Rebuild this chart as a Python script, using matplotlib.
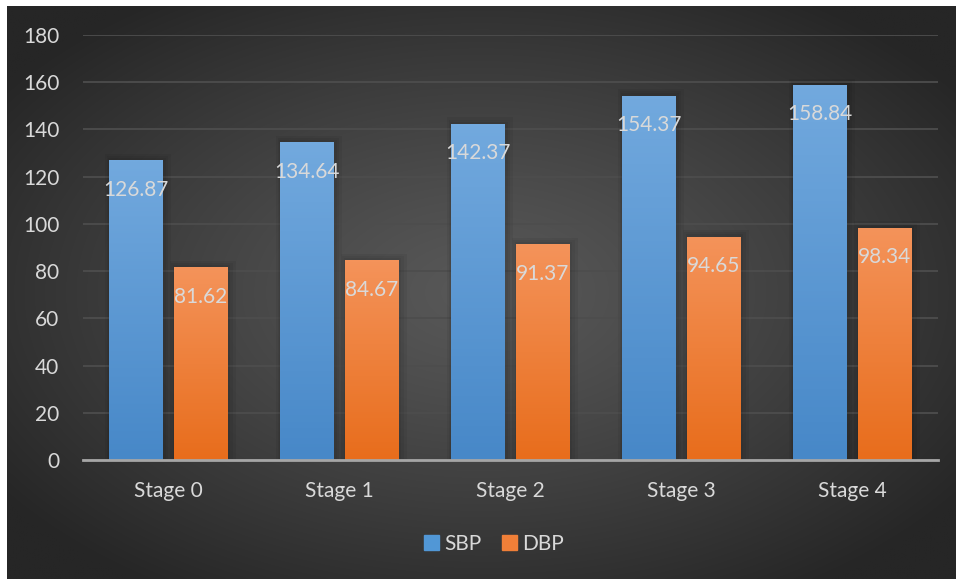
import numpy as np
import matplotlib
matplotlib.use("Agg")
import matplotlib.pyplot as plt
from matplotlib.patches import Rectangle
from matplotlib.colors import LinearSegmentedColormap

plt.rcParams['font.family'] = ['Lato', 'DejaVu Sans']

# data
stages = ["Stage 0", "Stage 1", "Stage 2", "Stage 3", "Stage 4"]
sbp = [126.87, 134.64, 142.37, 154.37, 158.84]
dbp = [81.62, 84.67, 91.37, 94.65, 98.34]
series_names = ["SBP", "DBP"]
yticks = [0, 20, 40, 60, 80, 100, 120, 140, 160, 180]

text_col = "#d9d9d9"
blue_top, blue_bot = "#72a9de", "#4788c8"
orange_top, orange_bot = "#f4935a", "#e86d1c"

fig = plt.figure(figsize=(9.56, 5.81), dpi=100, facecolor="white")

# radial gradient background
bg = fig.add_axes([7 / 956, 2 / 581, 949 / 956, 573 / 581])
bg.set_axis_off()
yy, xx = np.mgrid[0:1:300j, 0:1:500j]
r = np.sqrt(((xx - 0.5) / 0.62) ** 2 + ((yy - 0.5) / 0.62) ** 2)
r = np.clip(r, 0, 1)
light, dark = 0x58 / 255, 0x26 / 255
shade = light + (dark - light) * r ** 1.2
bg.imshow(np.dstack([shade] * 3), extent=[0, 1, 0, 1], aspect="auto", interpolation="bilinear")
bg.set_xlim(0, 1)
bg.set_ylim(0, 1)

ax = fig.add_axes([83 / 956, 121 / 581, 855 / 956, 425 / 581])
ax.patch.set_alpha(0)
x = np.arange(len(stages))
w = 0.315
off = 0.19

b1 = ax.bar(x - off, sbp, w, color=blue_bot, zorder=3, label=series_names[0])
b2 = ax.bar(x + off, dbp, w, color=orange_bot, zorder=3, label=series_names[1])

grad = np.linspace(0, 1, 100).reshape(-1, 1)
for bars, top, bot in [(b1, blue_top, blue_bot), (b2, orange_top, orange_bot)]:
    cmap = LinearSegmentedColormap.from_list("g", [bot, top])
    for p in bars:
        x0, y0 = p.get_x(), p.get_y()
        bw, bh = p.get_width(), p.get_height()
        # faint soft shadow
        for k in [0.045, 0.03, 0.015]:
            ax.add_patch(Rectangle((x0 - k * 0.5, y0), bw + k * 1.5, bh + k * 60,
                                   color="black", alpha=0.05, lw=0, zorder=2))
        im = ax.imshow(grad, cmap=cmap, origin="lower", aspect="auto",
                       extent=[x0, x0 + bw, y0, y0 + bh], zorder=4)
        im.set_clip_path(p)
        ax.text(x0 + bw / 2, y0 + bh - 12.5, f"{bh:.2f}", ha="center", va="center",
                color=text_col, fontsize=15, zorder=6)

ax.set_xlim(-0.5, len(stages) - 0.5)
ax.set_ylim(0, 180)
ax.set_yticks(yticks)
ax.set_xticks(x)
ax.set_xticklabels(stages)
ax.tick_params(axis="both", length=0, labelsize=15, colors=text_col)
ax.tick_params(axis="y", pad=17)
ax.tick_params(axis="x", pad=15)
ax.grid(axis="y", color="#4d4d4d", lw=1.3, zorder=0)
ax.set_axisbelow(True)
for s in ["top", "right", "left"]:
    ax.spines[s].set_visible(False)
ax.spines["bottom"].set_color("#a6a6a6")
ax.spines["bottom"].set_linewidth(2)
ax.spines["bottom"].set_zorder(7)

handles = [Rectangle((0, 0), 1, 1, color="#5197d6"), Rectangle((0, 0), 1, 1, color="#f07f38")]
leg = fig.legend(handles, series_names, loc="center", bbox_to_anchor=(494 / 956, 37 / 581),
                 ncol=2, frameon=False, fontsize=15, handlelength=0.7, handleheight=0.7,
                 handletextpad=0.25, columnspacing=1.0, labelcolor=text_col)

fig.savefig("out.png", dpi=100, facecolor="white")
